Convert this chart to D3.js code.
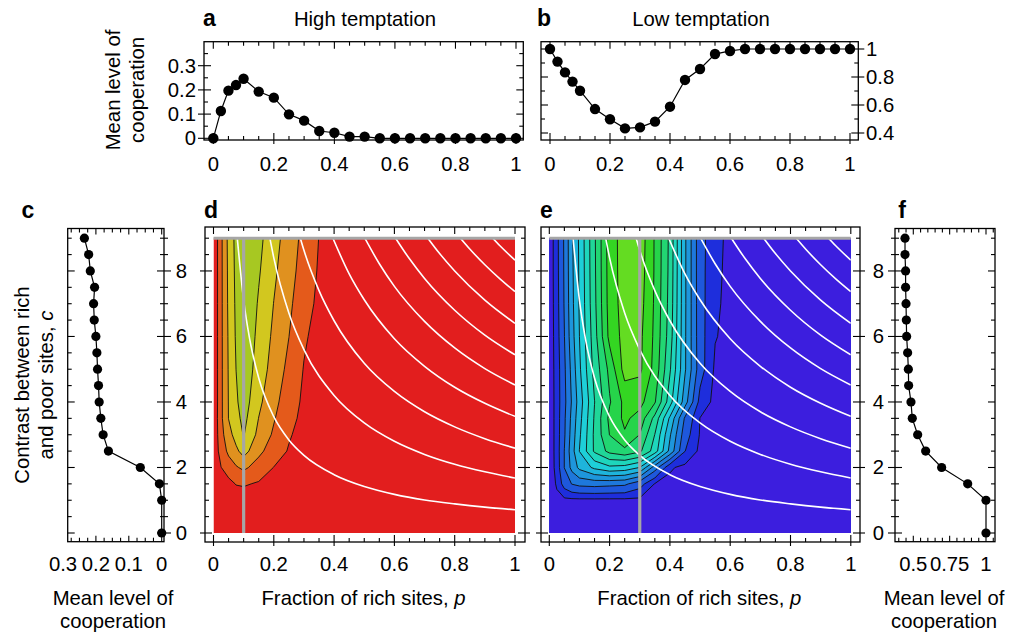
<!DOCTYPE html>
<html><head><meta charset="utf-8">
<script src="https://cdn.jsdelivr.net/npm/d3@7"></script>
<style>body{margin:0;background:#fff}svg{display:block}text{font-family:"Liberation Sans",Arial,Helvetica,sans-serif;fill:#000}</style>
</head><body><svg id="chart" width="1010" height="633"></svg>
<script>
// ---------- data ----------
const pPoints = [0,0.025,0.05,0.075,0.1,0.15,0.2,0.25,0.3,0.35,0.4,0.45,0.5,0.55,0.6,0.65,0.7,0.75,0.8,0.85,0.9,0.95,1];
const coopHigh = [0,0.113,0.197,0.22,0.246,0.193,0.168,0.099,0.073,0.03,0.023,0.007,0.007,0,0,0,0,0,0,0,0,0,0];
const coopLow = [1.0,0.91,0.833,0.767,0.702,0.571,0.498,0.433,0.44,0.481,0.588,0.779,0.857,0.964,0.986,1,1,1,1,1,1,1,1];
const cPoints = [0,1,1.5,2,2.5,3,3.5,4,4.5,5,5.5,6,6.5,7,7.5,8,8.5,9];
const coopHighC = [0,0,0.007,0.065,0.162,0.178,0.185,0.19,0.192,0.195,0.197,0.2,0.205,0.207,0.204,0.217,0.222,0.235];
const coopLowC = [1,1,0.874,0.695,0.585,0.53,0.493,0.484,0.468,0.466,0.461,0.454,0.452,0.45,0.447,0.447,0.443,0.443];
const pTicksTop = [0,0.2,0.4,0.6,0.8,1];
const pTickLabels = ["0","0.2","0.4","0.6","0.8","1"];
const aYTicks = [0,0.1,0.2,0.3]; const aYLabels = ["0","0.1","0.2","0.3"];
const bYTicks = [0.4,0.6,0.8,1]; const bYLabels = ["0.4","0.6","0.8","1"];
const cTicks = [0,2,4,6,8]; const cLabels = ["0","2","4","6","8"];
const cXTicks = [0.3,0.2,0.1,0]; const cXLabels = ["0.3","0.2","0.1","0"];
const fXTicks = [0.5,0.75,1]; const fXLabels = ["0.5","0.75","1"];

// grid of the maps (columns = p, rows = c)
const gridP = [0,0.0125,0.025,0.05,0.075,0.1,0.15,0.2,0.25,0.3,0.35,0.4,0.45,0.5,0.55,0.6,0.65,1];
const gridC = [0,1,1.5,2,2.5,3,3.5,4,5,6,7,8,9];
const fieldHigh = [
 [0,0,0,0,0,0,0,0,0,0,0,0,0,0,0,0,0,0],
 [0,0,0,0,0,0,0,0,0,0,0,0,0,0,0,0,0,0],
 [0,0,0.002,0.012,0.027,0.03,0.02,0.005,0.001,0,0,0,0,0,0,0,0,0],
 [0,0.012,0.024,0.047,0.07,0.085,0.054,0.024,0.003,0,0,0,0,0,0,0,0,0],
 [0,0.018,0.043,0.087,0.114,0.145,0.087,0.05,0.021,0.003,0,0,0,0,0,0,0,0],
 [0,0.021,0.058,0.106,0.145,0.178,0.111,0.0675,0.03,0.007,0.001,0,0,0,0,0,0,0],
 [0,0.023,0.064,0.126,0.158,0.19,0.124,0.079,0.04,0.0124,0.002,0,0,0,0,0,0,0],
 [0,0.022,0.064,0.127,0.167,0.2,0.136,0.089,0.048,0.0164,0.003,0.001,0,0,0,0,0,0],
 [0,0.022,0.064,0.129,0.1755,0.21,0.152,0.105,0.062,0.0226,0.004,0.001,0,0,0,0,0,0],
 [0,0.022,0.064,0.131,0.181,0.215,0.162,0.115,0.0755,0.0315,0.008,0.002,0,0,0,0,0,0],
 [0,0.022,0.064,0.134,0.184,0.22,0.17,0.124,0.085,0.044,0.015,0.003,0.001,0,0,0,0,0],
 [0,0.022,0.064,0.136,0.187,0.225,0.18,0.134,0.094,0.054,0.02,0.004,0.001,0,0,0,0,0],
 [0,0.022,0.064,0.139,0.19,0.23,0.188,0.144,0.101,0.061,0.024,0.005,0.002,0,0,0,0,0]
];
const fieldLow = [
 [1,1,1,1,1,1,1,1,1,1,1,1,1,1,1,1,1,1],
 [1,1,1,1,1,1,1,1,1,1,1,1,1,1,1,1,1,1],
 [1,1,0.985,0.93,0.898,0.885,0.88,0.885,0.89,0.93,0.992,1,1,1,1,1,1,1],
 [1,0.995,0.977,0.899,0.834,0.7875,0.739,0.711,0.719,0.751,0.875,0.985,1,1,1,1,1,1],
 [1,0.995,0.974,0.899,0.821,0.749,0.642,0.585,0.562,0.59,0.674,0.815,0.949,1,1,1,1,1],
 [1,0.995,0.974,0.906,0.829,0.758,0.64,0.549,0.505,0.551,0.651,0.794,0.928,0.993,1,1,1,1],
 [1,0.995,0.974,0.908,0.836,0.767,0.644,0.537,0.49,0.519,0.615,0.759,0.907,0.991,1,1,1,1],
 [1,0.995,0.974,0.913,0.845,0.776,0.651,0.555,0.486,0.483,0.545,0.678,0.828,0.967,1,1,1,1],
 [1,0.994,0.974,0.909,0.834,0.759,0.632,0.536,0.43,0.44,0.516,0.644,0.794,0.929,0.997,1,1,1],
 [1,0.993,0.97,0.901,0.82,0.75,0.62,0.485,0.432,0.438,0.51,0.625,0.793,0.932,0.988,1,1,1],
 [1,0.992,0.967,0.896,0.814,0.745,0.612,0.478,0.428,0.43,0.507,0.618,0.792,0.933,0.984,1,1,1],
 [1,0.991,0.965,0.894,0.811,0.743,0.609,0.476,0.427,0.424,0.505,0.614,0.792,0.934,0.981,1,1,1],
 [1,0.991,0.964,0.893,0.809,0.741,0.6075,0.475,0.4265,0.42,0.5045,0.612,0.792,0.934,0.978,1,1,1]
];
const levelsHigh = [0.025,0.075,0.125,0.175];
const colorsHigh = ["#e21e1e","#e45a1b","#e0911f","#d2c71f","#a7c822"];
const levelsLow = [0.45,0.5,0.55,0.6,0.65,0.7,0.75,0.8,0.85,0.9,0.95,0.99];
const colorsLow = ["#64dc22","#34d622","#26d44a","#22d672","#20d698","#1ed6bc","#1ecfd8","#1eb4dc","#1e96dc","#1e78dc","#1e58dc","#1e2edc","#3c1ede"];
// white iso-lines, points [p, c]
const whiteLines = [
 [[0.0789,9],[0.1,7.1],[0.12,5.92],[0.15,4.73],[0.2,3.55],[0.25,2.84],[0.3,2.37],[0.4,1.78],[0.5,1.42],[0.6,1.18],[0.7,1.01],[0.8,0.89],[0.9,0.79],[1,0.71]],
 [[0.187,9],[0.2,8.4],[0.25,6.72],[0.3,5.6],[0.4,4.2],[0.5,3.36],[0.6,2.8],[0.7,2.4],[0.8,2.1],[0.9,1.87],[1,1.68]],
 [[0.288,9],[0.3,8.63],[0.35,7.4],[0.4,6.48],[0.5,5.18],[0.6,4.32],[0.7,3.7],[0.8,3.24],[0.9,2.88],[1,2.59]],
 [[0.396,9],[0.45,7.91],[0.5,7.12],[0.6,5.93],[0.7,5.09],[0.8,4.45],[0.9,3.96],[1,3.56]],
 [[0.502,9],[0.55,8.22],[0.6,7.53],[0.7,6.46],[0.8,5.65],[0.9,5.02],[1,4.52]],
 [[0.604,9],[0.65,8.37],[0.7,7.77],[0.8,6.8],[0.9,6.04],[1,5.44]],
 [[0.711,9],[0.75,8.53],[0.8,8.0],[0.9,7.11],[1,6.4]],
 [[0.819,9],[0.85,8.67],[0.9,8.19],[0.95,7.76],[1,7.37]],
 [[0.926,9],[0.95,8.77],[1,8.33]]
];
const pSliceHigh = 0.1, pSliceLow = 0.3, cSlice = 9;

// ---------- drawing ----------
const svg = d3.select("#chart");
const FS = 20.3;
const near = (v, s) => Math.abs(v / s - Math.round(v / s)) < 1e-6;

function frame(x0, y0, x1, y1) {
  svg.append("rect").attr("x", x0).attr("y", y0).attr("width", x1 - x0).attr("height", y1 - y0)
    .attr("fill", "none").attr("stroke", "#000").attr("stroke-width", 1.3);
}
function ticks(side, scale, vals, isMaj, edge, o) {
  o = Object.assign({inMaj: 7, inMin: 4, outMaj: 0, outMin: 0}, o || {});
  vals.forEach(v => {
    const pos = scale(v), m = isMaj(v);
    const a = m ? o.inMaj : o.inMin, b = m ? o.outMaj : o.outMin;
    let x1, y1, x2, y2;
    if (side === "top") { x1 = x2 = pos; y1 = edge - b; y2 = edge + a; }
    else if (side === "bottom") { x1 = x2 = pos; y1 = edge + b; y2 = edge - a; }
    else if (side === "left") { y1 = y2 = pos; x1 = edge - b; x2 = edge + a; }
    else { y1 = y2 = pos; x1 = edge + b; x2 = edge - a; }
    svg.append("line").attr("x1", x1).attr("y1", y1).attr("x2", x2).attr("y2", y2)
      .attr("stroke", "#000").attr("stroke-width", 1.1);
  });
}
function label(x, y, t, anchor, opts) {
  const el = svg.append("text").attr("x", x).attr("y", y).attr("text-anchor", anchor || "middle")
    .attr("font-size", (opts && opts.size) || FS).text(t);
  if (opts && opts.bold) el.attr("font-weight", "bold");
  if (opts && opts.rotate) el.attr("transform", `rotate(-90,${x},${y})`);
  return el;
}
function seriesXY(xs, ys, xv, yv, r) {
  const pts = xv.map((v, i) => [xs(v), ys(yv[i])]);
  svg.append("path").attr("d", d3.line()(pts)).attr("fill", "none").attr("stroke", "#000").attr("stroke-width", 1.2);
  svg.append("g").selectAll("circle").data(pts).join("circle")
    .attr("cx", d => d[0]).attr("cy", d => d[1]).attr("r", r).attr("fill", "#000");
}

const pRange = d3.range(0, 1.0001, 0.05);
const isP02 = v => near(v, 0.2);

// ---- panel a ----
{
  const xs = d3.scaleLinear().domain([0, 1]).range([213.3, 516]);
  const ys = d3.scaleLinear().domain([0, 0.3]).range([138.3, 65.7]);
  frame(204, 41.7, 523.3, 140);
  ticks("top", xs, pRange, isP02, 41.7, {});
  ticks("bottom", xs, pRange, isP02, 140, {outMaj: 4});
  const yv = d3.range(0, 0.3501, 0.05);
  ticks("left", ys, yv, v => near(v, 0.1), 204, {outMaj: 6, outMin: 0});
  ticks("right", ys, yv, v => near(v, 0.1), 523.3, {});
  seriesXY(xs, ys, pPoints, coopHigh, 5.2);
  pTicksTop.forEach((v, i) => label(xs(v), 170.5, pTickLabels[i]));
  aYTicks.forEach((v, i) => label(196, ys(v) + 7, aYLabels[i], "end"));
  label(203, 26, "a", "start", {bold: true, size: 23});
  label(365, 26, "High temptation");
  label(120, 90, "Mean level of", "middle", {rotate: true});
  label(144, 90, "cooperation", "middle", {rotate: true});
}
// ---- panel b ----
{
  const xs = d3.scaleLinear().domain([0, 1]).range([550, 850]);
  const ys = d3.scaleLinear().domain([0.4, 1]).range([133, 49]);
  frame(541, 41.7, 858.3, 140);
  ticks("top", xs, pRange, isP02, 41.7, {});
  ticks("bottom", xs, pRange, isP02, 140, {outMaj: 4});
  const yv = d3.range(0.4, 1.0501, 0.1);
  ticks("left", ys, yv, v => near(v, 0.2), 541, {});
  ticks("right", ys, yv, v => near(v, 0.2), 858.3, {outMaj: 6});
  seriesXY(xs, ys, pPoints, coopLow, 5.2);
  pTicksTop.forEach((v, i) => label(xs(v), 170.5, pTickLabels[i]));
  bYTicks.forEach((v, i) => label(866, ys(v) + 7, bYLabels[i], "start"));
  label(537, 26, "b", "start", {bold: true, size: 23});
  label(701, 26, "Low temptation");
}

// common c scale for lower panels
const cy = d3.scaleLinear().domain([0, 9]).range([533, 238.2]);
const cRange = d3.range(0, 9.0001, 0.5);
const isC2 = v => near(v, 2);

// ---- panel c ----
{
  const xs = d3.scaleLinear().domain([0, 0.3]).range([161.7, 63]);
  frame(67.7, 228.5, 164, 541.7);
  ticks("left", cy, cRange, isC2, 67.7, {});
  ticks("right", cy, cRange, isC2, 164, {outMaj: 7, outMin: 4});
  const xv = d3.range(0, 0.2901, 0.025);
  ticks("bottom", xs, xv, v => near(v, 0.1), 541.7, {inMaj: 6, inMin: 4});
  ticks("top", xs, xv, v => near(v, 0.1), 228.5, {inMaj: 6, inMin: 4});
  seriesXY(xs, cy, coopHighC, cPoints, 4.6);
  cXTicks.forEach((v, i) => label(xs(v), 570.5, cXLabels[i]));
  label(28, 218, "c", "middle", {bold: true, size: 23});
  label(113, 605, "Mean level of");
  label(113, 628, "cooperation");
  label(29, 385, "Contrast between rich", "middle", {rotate: true});
  const t = svg.append("text").attr("x", 53).attr("y", 385).attr("text-anchor", "middle")
    .attr("font-size", FS).attr("transform", "rotate(-90,53,385)");
  t.append("tspan").text("and poor sites, ");
  t.append("tspan").attr("font-style", "italic").text("c");
}

function mapPanel(x0, fx0, fx1, field, levels, colors, pSlice, clipId, letter, labelsLeft) {
  const xs = d3.scaleLinear().domain([0, 1]).range([x0, x0 + 301.5]);
  frame(fx0, 227, fx1, 542);
  const nx = gridP.length, ny = gridC.length;
  const idxP = d3.scaleLinear().domain(d3.range(nx)).range(gridP);
  const idxC = d3.scaleLinear().domain(d3.range(ny)).range(gridC);
  const proj = d3.geoTransform({point(x, y) { this.stream.point(xs(idxP(x - 0.5)), cy(idxC(y - 0.5))); }});
  const path = d3.geoPath(proj);
  const conts = d3.contours().size([nx, ny]).thresholds(levels)(field.flat());
  svg.append("clipPath").attr("id", clipId).append("rect")
    .attr("x", xs(0)).attr("y", cy(9)).attr("width", xs(1) - xs(0)).attr("height", cy(0) - cy(9));
  const g = svg.append("g").attr("clip-path", `url(#${clipId})`);
  g.append("rect").attr("x", xs(0)).attr("y", cy(9)).attr("width", xs(1) - xs(0)).attr("height", cy(0) - cy(9)).attr("fill", colors[0]);
  conts.forEach((c, i) => g.append("path").attr("d", path(c)).attr("fill", colors[i + 1])
    .attr("stroke", "#111").attr("stroke-width", 0.9));
  const line = d3.line().x(d => xs(d[0])).y(d => cy(d[1])).curve(d3.curveMonotoneX);
  whiteLines.forEach(l => g.append("path").attr("d", line(l)).attr("fill", "none").attr("stroke", "#fff").attr("stroke-width", 1.6));
  // gray slice lines
  svg.append("line").attr("x1", xs(0)).attr("x2", xs(1)).attr("y1", cy(cSlice)).attr("y2", cy(cSlice))
    .attr("stroke", "#a6a6a6").attr("stroke-width", 3);
  svg.append("line").attr("x1", xs(pSlice)).attr("x2", xs(pSlice)).attr("y1", cy(0)).attr("y2", cy(9))
    .attr("stroke", "#a6a6a6").attr("stroke-width", 3.2);
  ticks("top", xs, pRange, isP02, 227, {});
  ticks("bottom", xs, pRange, isP02, 542, {outMaj: 4});
  ticks("left", cy, cRange, isC2, fx0, {outMaj: 5});
  ticks("right", cy, cRange, isC2, fx1, {outMaj: 5});
  pTicksTop.forEach((v, i) => label(xs(v), 570.5, pTickLabels[i]));
  const t = svg.append("text").attr("x", x0 + 150).attr("y", 605).attr("text-anchor", "middle").attr("font-size", FS);
  t.append("tspan").text("Fraction of rich sites, ");
  t.append("tspan").attr("font-style", "italic").text("p");
  label(fx0 - 1, 218, letter, "start", {bold: true, size: 23});
  if (labelsLeft) cTicks.forEach((v, i) => label(labelsLeft, cy(v) + 7, cLabels[i], "end"));
}
mapPanel(213.5, 205, 525, fieldHigh, levelsHigh, colorsHigh, pSliceHigh, "clipD", "d", 187);
mapPanel(549.3, 541, 860, fieldLow, levelsLow, colorsLow, pSliceLow, "clipE", "e", null);

// ---- panel f ----
{
  const xs = d3.scaleLinear().domain([0.5, 1]).range([913.3, 986]);
  frame(895, 228.5, 995, 541.7);
  ticks("left", cy, cRange, isC2, 895, {outMaj: 7, outMin: 4});
  ticks("right", cy, cRange, isC2, 995, {});
  const xv = d3.range(0.4, 1.0501, 0.05);
  ticks("bottom", xs, xv, v => near(v, 0.25), 541.7, {inMaj: 6, inMin: 4});
  ticks("top", xs, xv, v => near(v, 0.25), 228.5, {inMaj: 6, inMin: 4});
  seriesXY(xs, cy, coopLowC, cPoints, 4.6);
  fXTicks.forEach((v, i) => label(xs(v), 570.5, fXLabels[i]));
  cTicks.forEach((v, i) => label(884, cy(v) + 7, cLabels[i], "end"));
  label(902, 218, "f", "middle", {bold: true, size: 23});
  label(944, 605, "Mean level of");
  label(944, 628, "cooperation");
}
</script></body></html>
